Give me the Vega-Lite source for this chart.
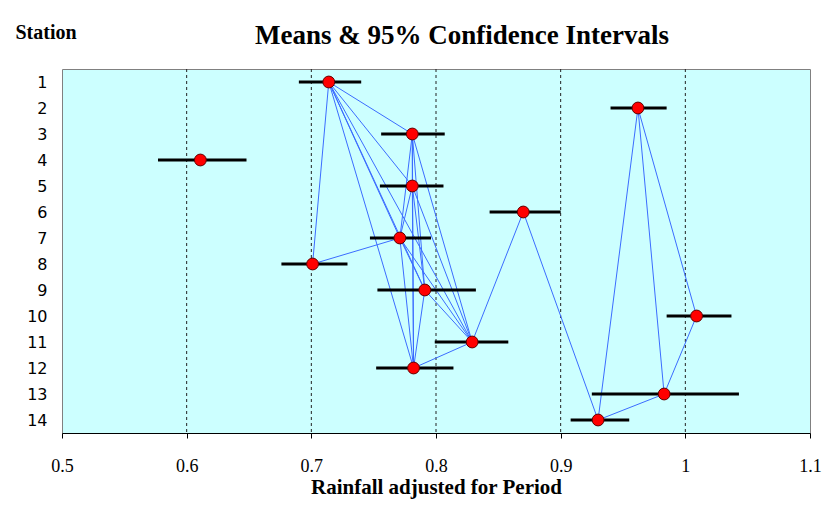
{
  "$schema": "https://vega.github.io/schema/vega-lite/v6.json",
  "autosize": {"type": "none"},
  "padding": {"left": 62, "top": 69, "right": 21, "bottom": 75},
  "width": 748,
  "height": 364,
  "background": "white",
  "title": {
    "text": "Means & 95% Confidence Intervals",
    "anchor": "start",
    "frame": "group",
    "dx": 193,
    "dy": 32,
    "font": "Liberation Serif",
    "fontSize": 27,
    "fontWeight": "bold",
    "color": "black"
  },
  "config": {
    "view": {"fill": "#CCFFFF", "stroke": "#808080", "strokeWidth": 1},
    "axis": {"labelOverlap": false},
    "axisY": {"labelOverlap": false}
  },
  "datasets": {
    "means": [
      {"station": 1, "mean": 0.714, "lo": 0.690, "hi": 0.740},
      {"station": 2, "mean": 0.962, "lo": 0.940, "hi": 0.985},
      {"station": 3, "mean": 0.781, "lo": 0.756, "hi": 0.807},
      {"station": 4, "mean": 0.611, "lo": 0.577, "hi": 0.648},
      {"station": 5, "mean": 0.781, "lo": 0.755, "hi": 0.806},
      {"station": 6, "mean": 0.870, "lo": 0.843, "hi": 0.900},
      {"station": 7, "mean": 0.771, "lo": 0.747, "hi": 0.796},
      {"station": 8, "mean": 0.701, "lo": 0.676, "hi": 0.729},
      {"station": 9, "mean": 0.791, "lo": 0.753, "hi": 0.832},
      {"station": 10, "mean": 1.009, "lo": 0.985, "hi": 1.037},
      {"station": 11, "mean": 0.829, "lo": 0.799, "hi": 0.858},
      {"station": 12, "mean": 0.782, "lo": 0.752, "hi": 0.814},
      {"station": 13, "mean": 0.983, "lo": 0.925, "hi": 1.043},
      {"station": 14, "mean": 0.930, "lo": 0.908, "hi": 0.955}
    ],
    "pairs": [
      {"a": 1, "b": 3}, {"a": 1, "b": 5}, {"a": 1, "b": 7}, {"a": 1, "b": 8},
      {"a": 1, "b": 9}, {"a": 1, "b": 11}, {"a": 1, "b": 12},
      {"a": 3, "b": 5}, {"a": 3, "b": 7}, {"a": 3, "b": 9}, {"a": 3, "b": 11}, {"a": 3, "b": 12},
      {"a": 5, "b": 7}, {"a": 5, "b": 9}, {"a": 5, "b": 11}, {"a": 5, "b": 12},
      {"a": 7, "b": 8}, {"a": 7, "b": 9}, {"a": 7, "b": 11}, {"a": 7, "b": 12},
      {"a": 9, "b": 11}, {"a": 9, "b": 12}, {"a": 11, "b": 12},
      {"a": 6, "b": 11}, {"a": 6, "b": 14},
      {"a": 2, "b": 14}, {"a": 2, "b": 13}, {"a": 2, "b": 10},
      {"a": 13, "b": 14}, {"a": 10, "b": 13}
    ],
    "grid": [{"g": 0.6}, {"g": 0.7}, {"g": 0.8}, {"g": 0.9}, {"g": 1.0}]
  },
  "layer": [
    {
      "data": {"name": "grid"},
      "mark": {"type": "rule", "color": "#222222", "strokeWidth": 1, "strokeDash": [3, 3]},
      "encoding": {
        "x": {"field": "g", "type": "quantitative", "scale": {"domain": [0.5, 1.1], "nice": false, "zero": false}}
      }
    },
    {
      "data": {"name": "pairs"},
      "transform": [
        {"lookup": "a", "from": {"data": {"name": "means"}, "key": "station", "fields": ["mean"]}, "as": ["xa"]},
        {"lookup": "b", "from": {"data": {"name": "means"}, "key": "station", "fields": ["mean"]}, "as": ["xb"]}
      ],
      "mark": {"type": "rule", "color": "#3B6CFF", "strokeWidth": 1},
      "encoding": {
        "x": {"field": "xa", "type": "quantitative"},
        "x2": {"field": "xb"},
        "y": {"field": "a", "type": "quantitative"},
        "y2": {"field": "b"}
      }
    },
    {
      "data": {"name": "means"},
      "mark": {"type": "rule", "color": "black", "strokeWidth": 3},
      "encoding": {
        "x": {"field": "lo", "type": "quantitative"},
        "x2": {"field": "hi"},
        "y": {"field": "station", "type": "quantitative"}
      }
    },
    {
      "data": {"name": "means"},
      "mark": {"type": "point", "shape": "circle", "filled": true, "fill": "#FF0000", "stroke": "#600000", "strokeWidth": 1, "size": 140, "opacity": 1},
      "encoding": {
        "x": {
          "field": "mean", "type": "quantitative",
          "scale": {"domain": [0.5, 1.1], "nice": false, "zero": false},
          "axis": {
            "values": [0.5, 0.6, 0.7, 0.8, 0.9, 1.0, 1.1],
            "format": "~g",
            "grid": false,
            "domainColor": "black",
            "tickColor": "black",
            "tickSize": 5,
            "labelFont": "Liberation Serif",
            "labelFontSize": 18,
            "labelColor": "black",
            "labelPadding": 19,
            "labelFlush": false,
            "labelOverlap": false,
            "title": "Rainfall adjusted for Period",
            "titleFont": "Liberation Serif",
            "titleFontSize": 21,
            "titleFontWeight": "bold",
            "titleColor": "black",
            "titleBaseline": "alphabetic",
            "titleY": 60
          }
        },
        "y": {
          "field": "station", "type": "quantitative",
          "scale": {"domain": [0.5, 14.5], "reverse": true, "nice": false, "zero": false},
          "axis": {
            "values": [1, 2, 3, 4, 5, 6, 7, 8, 9, 10, 11, 12, 13, 14],
            "tickCount": 14,
            "grid": false,
            "domain": false,
            "ticks": false,
            "tickSize": 0,
            "labelPadding": 15,
            "labelFont": "DejaVu Sans",
            "labelFontSize": 16,
            "labelColor": "black",
            "labelFlush": false,
            "labelOverlap": false,
            "title": "Station",
            "titleAngle": 0,
            "titleAlign": "left",
            "titleBaseline": "alphabetic",
            "titleX": -47,
            "titleY": -31,
            "titleFont": "Liberation Serif",
            "titleFontSize": 20,
            "titleFontWeight": "bold",
            "titleColor": "black"
          }
        }
      }
    }
  ]
}
